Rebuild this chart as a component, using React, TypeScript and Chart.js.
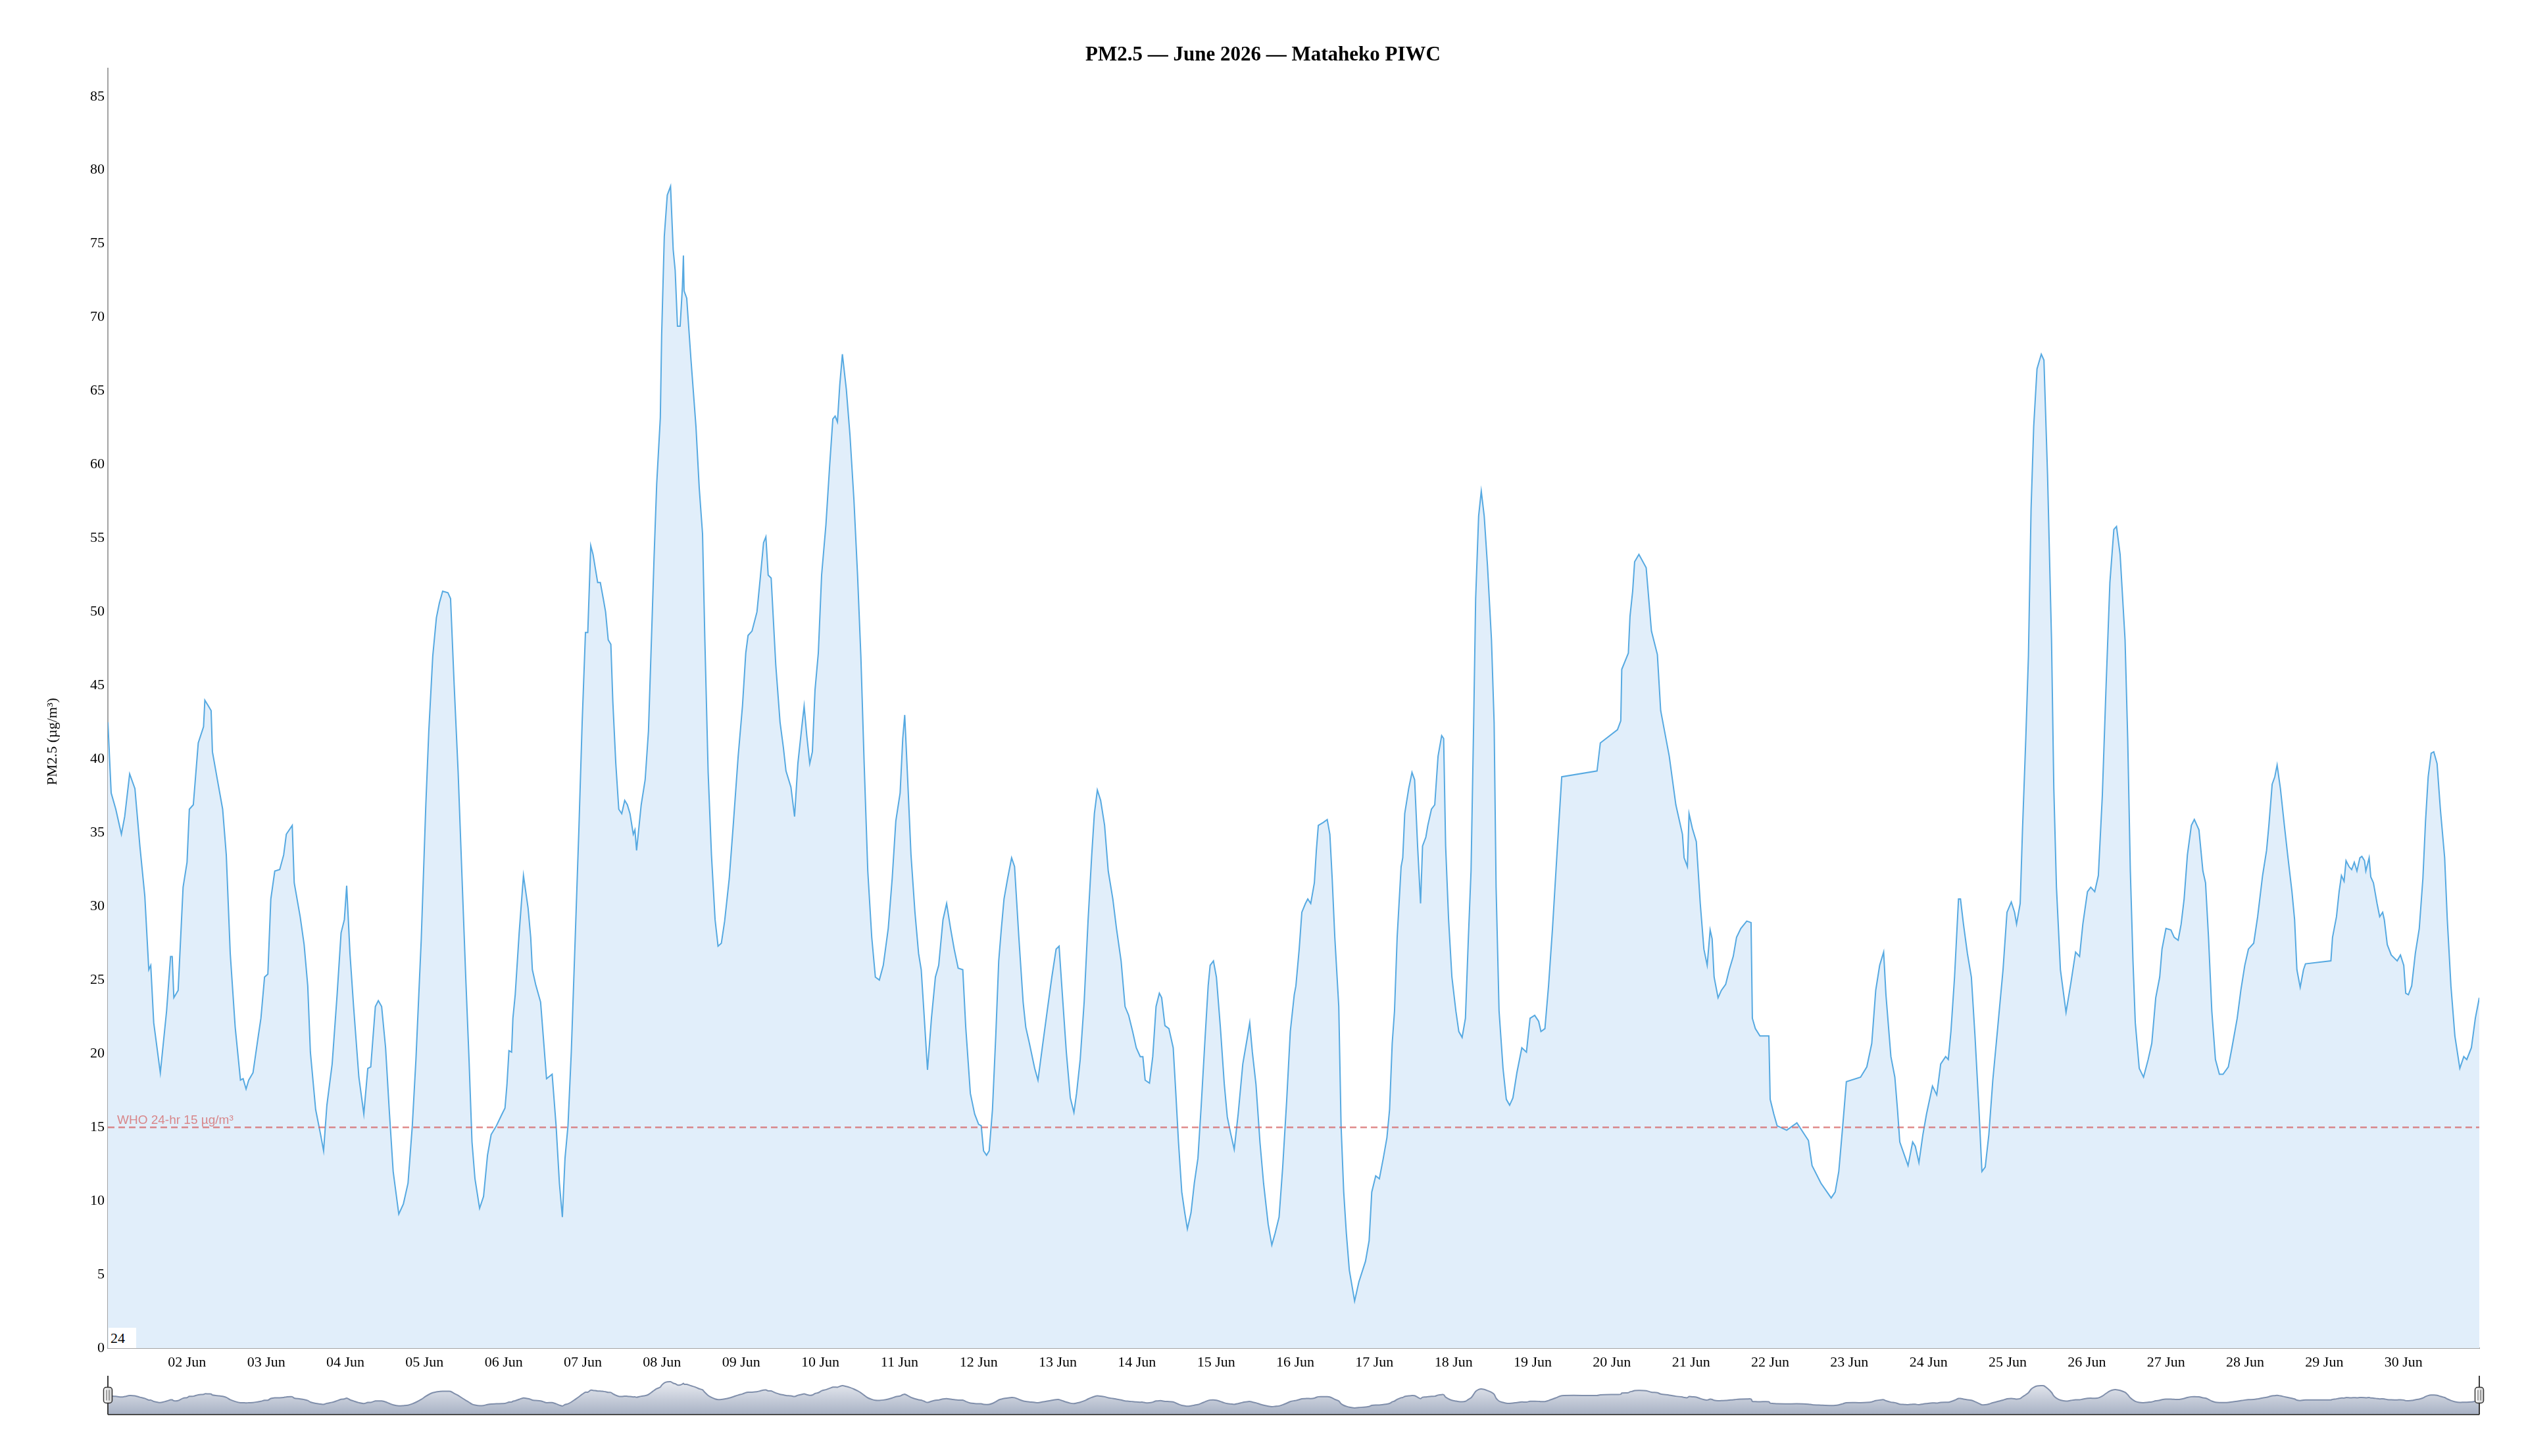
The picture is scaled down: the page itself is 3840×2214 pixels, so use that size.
import { useEffect, useRef } from 'react'
import { Chart, registerables } from 'chart.js'
Chart.register(...registerables)

const SERIF = '"Liberation Serif", "Times New Roman", serif'
const SANS = '"Liberation Sans", Arial, sans-serif'
Chart.defaults.font.family = SERIF

const TITLE = 'PM2.5 — June 2026 — Mataheko PIWC'
const Y_LABEL = 'PM2.5 (µg/m³)'
const WHO_LIMIT = 15
const WHO_LABEL = 'WHO 24-hr 15 µg/m³'
const ROLL_PERIOD = 24

const HOURS = [
  0, 1, 2.4, 4.1, 5.1, 6.6, 8.2, 9.7, 11.2, 12.4,
  13, 13.9, 15.9, 17.8, 19, 19.5, 20, 21.3, 22.8, 24,
  24.7, 25.9, 27.4, 29, 29.4, 30.5, 31.3, 31.7, 33.2, 34.8,
  35.9, 37.1, 38.6, 40.2, 41, 41.9, 42.7, 44, 45.6, 46.4,
  47.5, 48.5, 49.4, 50.6, 52.1, 53.3, 54.1, 55.9, 56.5, 58.3,
  59.5, 60.6, 61.4, 63, 64.5, 65.4, 66.4, 68, 69.5, 70.7,
  71.7, 72.4, 73.4, 74.5, 76.1, 77.6, 78.8, 79.7, 81.1, 82,
  83, 84.2, 85.3, 86.5, 88.2, 89.6, 91, 92.3, 93.4, 95,
  96.4, 97.3, 98.5, 99.6, 100.5, 101.5, 103.1, 103.9, 105, 106.2,
  107.3, 108.5, 109.5, 110.4, 111.3, 112.7, 113.9, 115.1, 116.2, 117.8,
  119.5, 120.4, 121, 121.6, 122.4, 122.8, 123.5, 124.7, 126, 127.4,
  128.2, 128.7, 129.7, 131.2, 132, 133, 134.7, 135.9, 136.9, 137.8,
  138.6, 139.5, 140.5, 141.7, 142.8, 143.8, 144.8, 145.5, 146.4, 147.1,
  148.5, 149.3, 150.2, 150.9, 151.7, 152.5, 153.1, 154, 154.9, 155.8,
  156.7, 157.5, 158.3, 159.3, 159.8, 160.3, 161.7, 162.9, 163.9, 164.8,
  165.6, 166.4, 167.5, 167.9, 168.7, 169.6, 170.6, 171.4, 172, 172.7,
  173.5, 174.2, 174.5, 174.7, 175.5, 176.8, 178.3, 179.3, 180.3, 181,
  182, 183, 184.1, 185, 186, 187, 188.4, 189.7, 191.1, 192.4,
  193.4, 194.1, 195.3, 196.8, 197.8, 198.8, 199.5, 200.2, 201.1, 202.5,
  203.8, 204.8, 205.6, 207.1, 208.2, 209.2, 210.4, 211.1, 211.9, 212.8,
  213.6, 214.4, 215.4, 216.4, 217.7, 218.8, 219.8, 220.5, 221.2, 221.9,
  222.7, 223.9, 225, 226.2, 227.3, 228.3, 229.3, 230.4, 231.6, 232.7,
  233.9, 235.1, 236.6, 237.8, 238.9, 240.2, 241, 241.6, 242.5, 243.5,
  244.7, 245.8, 246.6, 247.4, 248.5, 249.7, 250.9, 251.9, 253.2, 254.3,
  255.5, 256.6, 257.8, 259.2, 260.1, 261.5, 262.8, 264, 264.8, 265.5,
  266.4, 267.2, 268.2, 269.2, 270.1, 270.9, 271.7, 272.8, 274, 274.9,
  276.2, 277.5, 278.3, 279.4, 281, 282, 283.3, 284.8, 286.2, 287.5,
  288.4, 289.4, 290.6, 291.8, 292.9, 293.7, 294.8, 296, 297.2, 298.3,
  299.1, 300, 301, 302.2, 303.3, 304.7, 305.8, 307.2, 308.4, 309.5,
  310.7, 311.8, 313, 313.8, 314.5, 315.8, 316.8, 317.8, 318.8, 319.5,
  320.5, 321.7, 323, 323.8, 324.6, 325.6, 326.5, 327.3, 328.4, 329.4,
  330.5, 331.5, 332.7, 333.6, 334.2, 335.2, 336.1, 337.3, 338.5, 339.4,
  340.4, 341.5, 342.7, 344.1, 345.4, 346.2, 347, 348.1, 349.3, 350.4,
  351.8, 352.9, 353.9, 355.1, 356.2, 357.4, 358.5, 359.7, 360.2, 361.2,
  362, 363.1, 363.8, 364.7, 365.8, 366.4, 367, 368.5, 369.7, 370.5,
  371.2, 372, 373.2, 373.9, 374.7, 375.5, 376.4, 378, 379.3, 381.3,
  382.4, 383.2, 384.4, 385.5, 386.7, 387.8, 388.6, 389.4, 390.1, 390.9,
  392.1, 392.6, 393.2, 394.4, 395.4, 396.2, 397.1, 398, 398.6, 399.6,
  400.2, 401.3, 402.3, 403.3, 404.4, 405, 405.6, 406.5, 407.5, 408.7,
  409.6, 410.6, 411.6, 412.5, 413.3, 414.1, 414.7, 415.6, 416.4, 417.3,
  418.3, 419.5, 420.3, 420.9, 421.8, 423, 424, 425, 426, 427.2,
  428.7, 430.1, 431.2, 432.6, 433.8, 434.5, 435.7, 436.8, 438, 439.5,
  440.8, 451.5, 452.5, 457.7, 458.7, 459, 461, 461.5, 462.3, 462.9,
  464.2, 466.4, 468, 469.8, 470.8, 473.4, 475.4, 477.4, 477.9, 478.9,
  479.4, 480.4, 481.6, 482.8, 483.9, 484.9, 485.8, 486.4, 487, 488.2,
  489.2, 490.5, 491.6, 492.8, 493.8, 495.1, 496.9, 498.2, 498.6, 499.5,
  500.9, 503.6, 504, 505.1, 506.1, 509, 512.1, 515.6, 516.7, 519.4,
  522.5, 523.7, 524.8, 526, 527.1, 531.4, 533.3, 534.8, 536, 537.2,
  538.4, 539.1, 540.6, 541.8, 542.6, 543.3, 544.7, 545.8, 547.2, 548,
  549.1, 550.3, 551.4, 553.2, 554.5, 555.7, 557.2, 558, 558.8, 559.9,
  561.1, 561.7, 562.6, 563.8, 565, 566.1, 567.3, 568.2, 569.2, 570.3,
  571.5, 573, 574.6, 575.8, 577.1, 578.1, 578.7, 579.8, 580.5, 581.5,
  582.3, 583.1, 583.9, 584.9, 586.2, 587, 588.1, 589.3, 590, 590.8,
  592, 593.7, 595.1, 596.6, 597.8, 598.8, 600.2, 601.2, 602.4, 603.5,
  604.7, 605.8, 607, 608.2, 609, 610.1, 611.6, 612.4, 613.2, 614,
  614.7, 615.9, 617.2, 618.6, 619.7, 620.9, 622.1, 622.8, 624, 625.5,
  626.5, 627.7, 628.6, 629.5, 630.5, 631.7, 632.6, 634, 635.2, 636,
  636.9, 637.9, 639, 640.2, 641.3, 642.9, 644, 645.6, 646.7, 647.9,
  649, 650.6, 651.8, 653.3, 654.5, 655.2, 656.2, 657, 657.7, 658.7,
  659.9, 661, 662.2, 663, 663.7, 664.7, 665.7, 666.3, 674, 674.5,
  675.7, 676.5, 677.2, 678, 678.6, 679.5, 680.3, 681.1, 681.9, 682.8,
  683.4, 684.2, 684.6, 685.6, 686.1, 686.9, 688, 688.8, 689.7, 690.2,
  691.1, 692.3, 694.1, 695.1, 696.1, 696.7, 697.5, 698.5, 699.6, 700.8,
  701.9, 702.7, 703.5, 704.4, 705.2, 706.2, 707.2, 708.5, 709.3, 710.4,
  711.6, 713.1, 714.3, 715.2, 716.6, 717.8, 719,
]

// PM2.5 in µg/m³, same order as HOURS
const PM25 = [
  42.5, 37.7, 36.6, 34.9, 36.1, 39.0, 38.0, 34.1, 30.7, 25.7,
  26.0, 22.1, 18.7, 22.9, 26.6, 26.6, 23.8, 24.3, 31.3, 33.0,
  36.6, 36.9, 41.1, 42.2, 44.0, 43.6, 43.3, 40.5, 38.6, 36.6,
  33.5, 26.8, 21.8, 18.2, 18.3, 17.6, 18.2, 18.7, 21.2, 22.4,
  25.2, 25.4, 30.5, 32.4, 32.5, 33.5, 34.9, 35.5, 31.6, 29.3,
  27.4, 24.6, 20.1, 16.2, 14.5, 13.4, 16.5, 19.3, 24.0, 28.2,
  29.1, 31.4, 26.8, 23.2, 18.4, 15.9, 19.0, 19.1, 23.2, 23.6,
  23.2, 20.4, 16.2, 12.0, 9.1, 9.8, 11.2, 15.1, 19.6, 27.7,
  36.9, 41.9, 47.0, 49.6, 50.6, 51.4, 51.3, 50.9, 45.0, 39.1,
  32.4, 25.2, 19.6, 14.0, 11.5, 9.5, 10.3, 13.1, 14.5, 15.1,
  15.9, 16.3, 17.9, 20.2, 20.1, 22.4, 24.0, 28.2, 32.1, 29.9,
  27.9, 25.7, 24.7, 23.5, 21.2, 18.3, 18.6, 15.1, 11.2, 8.9,
  12.9, 15.1, 20.1, 27.9, 35.2, 42.5, 48.6, 48.6, 54.5, 53.9,
  52.0, 52.0, 50.9, 50.0, 48.1, 47.8, 43.9, 39.7, 36.6, 36.3,
  37.2, 36.9, 36.3, 34.9, 35.2, 33.8, 36.9, 38.6, 41.9, 48.1,
  53.7, 58.7, 63.2, 68.8, 75.5, 78.3, 78.9, 74.6, 73.2, 69.4,
  69.4, 72.1, 74.2, 71.8, 71.3, 67.1, 62.6, 58.4, 55.3, 48.1,
  39.1, 33.5, 29.1, 27.3, 27.5, 29.0, 31.9, 35.8, 40.2, 43.6,
  47.2, 48.4, 48.7, 50.0, 52.3, 54.7, 55.1, 52.5, 52.3, 46.4,
  42.5, 40.8, 39.2, 38.1, 36.1, 39.7, 42.2, 43.6, 41.6, 39.7,
  40.5, 44.7, 47.2, 52.5, 55.9, 59.8, 63.1, 63.3, 62.9, 65.4,
  67.5, 65.1, 62.0, 57.6, 52.5, 47.0, 39.7, 32.4, 27.9, 25.2,
  25.0, 26.0, 28.5, 31.9, 35.8, 37.7, 41.4, 43.0, 38.6, 33.5,
  29.6, 26.8, 25.7, 22.9, 18.9, 22.4, 25.2, 26.0, 29.1, 30.2,
  28.5, 27.1, 25.8, 25.7, 21.8, 17.3, 15.9, 15.2, 15.1, 13.4,
  13.1, 13.4, 16.2, 21.2, 26.3, 28.5, 30.5, 31.9, 33.3, 32.7,
  27.9, 23.5, 21.8, 20.7, 19.0, 18.2, 20.4, 22.9, 25.2, 27.1,
  27.3, 24.0, 20.1, 17.0, 16.0, 17.3, 19.6, 23.5, 29.1, 33.5,
  36.3, 37.9, 37.2, 35.5, 32.4, 30.5, 28.5, 26.3, 23.2, 22.6,
  21.5, 20.4, 19.8, 19.8, 18.2, 18.0, 19.8, 23.2, 24.1, 23.8,
  21.9, 21.7, 20.4, 17.3, 14.0, 10.6, 9.2, 8.1, 9.2, 11.2,
  12.9, 16.5, 21.2, 24.6, 26.0, 26.3, 25.2, 21.8, 17.9, 15.7,
  14.6, 13.5, 15.9, 19.3, 21.0, 22.1, 20.1, 17.9, 14.0, 11.2,
  8.4, 7.0, 7.8, 8.9, 12.3, 16.8, 21.5, 24.0, 24.6, 27.1,
  29.6, 30.2, 30.5, 30.2, 31.6, 33.8, 35.5, 35.7, 35.9, 34.9,
  31.9, 27.9, 23.2, 15.1, 10.6, 7.8, 5.3, 3.2, 4.5, 5.9,
  7.3, 10.6, 11.7, 11.5, 12.9, 14.3, 16.2, 20.7, 22.9, 27.9,
  32.7, 33.3, 36.3, 38.0, 39.1, 38.6, 34.1, 30.2, 34.1, 34.7,
  35.5, 36.6, 36.9, 40.2, 41.6, 41.4, 34.1, 29.1, 25.2, 22.9,
  21.5, 21.1, 22.4, 27.9, 32.4, 42.5, 50.9, 56.5, 58.2, 56.5,
  53.1, 48.1, 42.5, 31.3, 22.9, 19.0, 16.9, 16.5, 17.0, 18.7,
  20.4, 20.1, 22.4, 22.6, 22.2, 21.5, 21.7, 24.6, 28.5, 34.1,
  38.8, 39.2, 41.1, 42.0, 42.6, 46.1, 47.2, 49.7, 51.4, 53.4,
  53.9, 53.0, 48.7, 47.1, 43.3, 40.2, 36.9, 34.9, 33.3, 32.7,
  36.3, 35.3, 34.4, 30.2, 27.1, 26.0, 28.4, 27.8, 25.2, 23.8,
  24.3, 24.7, 25.7, 26.6, 27.9, 28.5, 29.0, 28.9, 22.4, 21.7,
  21.2, 21.2, 16.9, 15.9, 15.1, 14.8, 15.3, 14.1, 12.4, 11.2,
  10.2, 10.6, 12.0, 15.1, 18.1, 18.4, 19.1, 20.7, 24.3, 26.0,
  26.9, 24.0, 19.8, 18.4, 16.2, 14.0, 13.1, 12.4, 14.0, 13.7,
  12.6, 14.5, 15.9, 17.8, 17.2, 19.3, 19.8, 19.6, 21.5, 25.2,
  30.5, 30.5, 28.8, 26.8, 25.2, 21.2, 16.2, 12.0, 12.3, 14.5,
  18.2, 21.8, 25.7, 29.6, 30.3, 29.6, 28.8, 30.2, 35.2, 41.4,
  47.0, 57.0, 62.6, 66.5, 67.5, 67.1, 59.3, 48.1, 38.0, 31.3,
  25.7, 22.8, 24.7, 26.9, 26.6, 28.8, 31.0, 31.3, 31.0, 32.1,
  37.5, 44.7, 52.0, 55.6, 55.8, 53.9, 48.1, 41.4, 32.4, 26.3,
  22.1, 19.0, 18.4, 19.6, 20.7, 23.8, 25.2, 27.1, 28.5, 28.4,
  27.9, 27.7, 28.8, 30.5, 33.5, 35.5, 35.9, 35.2, 32.4, 31.6,
  27.9, 22.9, 19.6, 18.6, 18.6, 19.1, 20.4, 22.4, 24.3, 26.0,
  27.1, 27.5, 29.3, 32.1, 33.8, 35.5, 38.3, 38.8, 39.6, 38.0,
  35.5, 33.3, 31.0, 29.1, 25.7, 24.5, 25.7, 26.1, 26.3, 27.9,
  29.3, 31.0, 32.1, 31.7, 33.1, 32.7, 32.5, 33.0, 32.4, 33.3,
  33.4, 33.1, 32.4, 33.3, 32.0, 31.6, 30.2, 29.3, 29.6, 29.1,
  27.4, 26.7, 26.3, 26.7, 26.0, 24.1, 24.0, 24.6, 26.8, 28.5,
  31.9, 35.8, 38.8, 40.4, 40.5, 39.7, 36.6, 33.3, 29.1, 24.6,
  21.2, 19.0, 19.8, 19.6, 20.4, 22.4, 23.8,
]

const DAY_TICKS = [
  24, 48, 72, 96, 120, 144, 168, 192, 216, 240,
  264, 288, 312, 336, 360, 384, 408, 432, 456, 480,
  504, 528, 552, 576, 600, 624, 648, 672, 696,
]
const DAY_LABELS = [
  '02 Jun', '03 Jun', '04 Jun', '05 Jun', '06 Jun', '07 Jun', '08 Jun', '09 Jun', '10 Jun', '11 Jun',
  '12 Jun', '13 Jun', '14 Jun', '15 Jun', '16 Jun', '17 Jun', '18 Jun', '19 Jun', '20 Jun', '21 Jun',
  '22 Jun', '23 Jun', '24 Jun', '25 Jun', '26 Jun', '27 Jun', '28 Jun', '29 Jun', '30 Jun',
]
const Y_TICKS = [0, 5, 10, 15, 20, 25, 30, 35, 40, 45, 50, 55, 60, 65, 70, 75, 80, 85]
const X_MAX = 719
const Y_MAX = 86.9
const OVERVIEW_MIN = -16
const OVERVIEW_MAX = 96

const LINE = '#56a9e1'
const FILL = '#e1eefa'
const AXIS = '#a3a3a3'
const WHO_COLOR = 'rgba(212, 94, 94, 0.72)'

const MAIN_HEIGHT = 2077
const MINI_HEIGHT = 75
const RANGE_DROP = 101 // plot bottom to range selector bottom

const points = () => HOURS.map((h, i) => ({ x: h, y: PM25[i] }))

const whoLine = {
  id: 'whoLine',
  afterDatasetsDraw(chart: any) {
    const { ctx, chartArea } = chart
    const y = chart.scales.y.getPixelForValue(WHO_LIMIT)
    ctx.save()
    ctx.strokeStyle = WHO_COLOR
    ctx.lineWidth = 2.5
    ctx.setLineDash([10, 6])
    ctx.beginPath()
    ctx.moveTo(chartArea.left, y)
    ctx.lineTo(chartArea.right, y)
    ctx.stroke()
    ctx.setLineDash([])
    ctx.fillStyle = WHO_COLOR
    ctx.font = `19px ${SANS}`
    ctx.textBaseline = 'alphabetic'
    ctx.fillText(WHO_LABEL, chartArea.left + 14, y - 5)
    ctx.restore()
  },
}

const yTitle = {
  id: 'yTitle',
  afterDraw(chart: any) {
    const { ctx, chartArea } = chart
    ctx.save()
    ctx.translate(72, (chartArea.top + chartArea.bottom + RANGE_DROP) / 2)
    ctx.rotate(-Math.PI / 2)
    ctx.font = `22px ${SERIF}`
    ctx.fillStyle = '#000'
    ctx.textAlign = 'center'
    ctx.textBaseline = 'middle'
    ctx.fillText(Y_LABEL, 0, 0)
    ctx.restore()
  },
}

const rangeFrame = {
  id: 'rangeFrame',
  afterDraw(chart: any) {
    const { ctx, chartArea } = chart
    const { left, right, top, bottom } = chartArea
    ctx.save()
    ctx.strokeStyle = '#4a4a4a'
    ctx.lineWidth = 2
    ctx.beginPath()
    ctx.moveTo(left, bottom)
    ctx.lineTo(right, bottom)
    ctx.stroke()
    const cy = (top + bottom) / 2
    for (const x of [left, right]) {
      ctx.strokeStyle = '#3a3a3a'
      ctx.lineWidth = 2
      ctx.beginPath()
      ctx.moveTo(x, top)
      ctx.lineTo(x, bottom)
      ctx.stroke()
      const g = ctx.createLinearGradient(x - 7, 0, x + 7, 0)
      g.addColorStop(0, '#ffffff')
      g.addColorStop(1, '#d0d0d0')
      ctx.fillStyle = g
      ctx.strokeStyle = '#333'
      ctx.lineWidth = 1.5
      ctx.beginPath()
      ctx.roundRect(x - 6.5, cy - 12, 13, 24, 4)
      ctx.fill()
      ctx.stroke()
      ctx.lineWidth = 1
      ctx.strokeStyle = '#555'
      ctx.beginPath()
      ctx.moveTo(x - 2, cy - 8)
      ctx.lineTo(x - 2, cy + 8)
      ctx.moveTo(x + 2, cy - 8)
      ctx.lineTo(x + 2, cy + 8)
      ctx.stroke()
    }
    ctx.restore()
  },
}

function MainChart() {
  const ref = useRef<HTMLCanvasElement>(null)
  useEffect(() => {
    if (!ref.current) return
    const chart = new Chart(ref.current, {
      type: 'line',
      data: {
        datasets: [
          {
            data: points(),
            borderColor: LINE,
            backgroundColor: FILL,
            borderWidth: 2,
            pointRadius: 0,
            fill: 'origin',
            tension: 0,
          },
        ],
      },
      options: {
        animation: false,
        responsive: true,
        maintainAspectRatio: false,
        layout: { padding: 0 },
        plugins: {
          legend: { display: false },
          tooltip: { enabled: false },
          title: {
            display: true,
            text: TITLE,
            color: '#000',
            font: { size: 31, weight: 'bold', family: SERIF },
            padding: { top: 57, bottom: 2 },
          },
        },
        scales: {
          x: {
            type: 'linear',
            min: 0,
            max: X_MAX,
            grid: { display: false, drawTicks: false },
            border: { display: true, color: AXIS, width: 2 },
            afterBuildTicks: (s: any) => {
              s.ticks = DAY_TICKS.map((v) => ({ value: v }))
            },
            afterFit: (s: any) => {
              s.height = 35
            },
            ticks: {
              autoSkip: false,
              maxRotation: 0,
              padding: 9,
              color: '#000',
              font: { size: 22, family: SERIF },
              callback: (_v: any, i: number) => DAY_LABELS[i] ?? '',
            },
          },
          y: {
            min: 0,
            max: Y_MAX,
            grid: { display: false, drawTicks: false },
            border: { display: true, color: AXIS, width: 2 },
            afterBuildTicks: (s: any) => {
              s.ticks = Y_TICKS.map((v) => ({ value: v }))
            },
            afterFit: (s: any) => {
              s.width = 156
            },
            ticks: {
              padding: 5,
              color: '#000',
              font: { size: 22, family: SERIF },
              callback: (v: any) => String(v),
            },
          },
          // empty right-hand margin, so the title stays centred on the page
          gutter: {
            position: 'right',
            display: true,
            grid: { display: false, drawTicks: false },
            border: { display: false },
            ticks: { display: false },
            afterFit: (s: any) => {
              s.width = 63
            },
          },
        },
      },
      plugins: [whoLine, yTitle],
    })
    return () => chart.destroy()
  }, [])
  return (
    <div style={{ position: 'relative', height: MAIN_HEIGHT }}>
      <canvas ref={ref} />
    </div>
  )
}

function RangeChart() {
  const ref = useRef<HTMLCanvasElement>(null)
  useEffect(() => {
    if (!ref.current) return
    const chart = new Chart(ref.current, {
      type: 'line',
      data: {
        datasets: [
          {
            data: points(),
            borderColor: '#808fab',
            borderWidth: 2,
            pointRadius: 0,
            tension: 0.3,
            fill: 'start',
            backgroundColor: (c: any) => {
              const area = c.chart.chartArea
              if (!area) return '#c4cbd8'
              const g = c.chart.ctx.createLinearGradient(0, area.top, 0, area.bottom)
              g.addColorStop(0, '#f4f5f8')
              g.addColorStop(1, '#a7b1c4')
              return g
            },
          },
        ],
      },
      options: {
        animation: false,
        responsive: true,
        maintainAspectRatio: false,
        layout: { padding: { left: 156, right: 63, top: 7, bottom: 9 } },
        plugins: {
          legend: { display: false },
          tooltip: { enabled: false },
          title: { display: false },
        },
        scales: {
          x: { type: 'linear', display: false, min: 0, max: X_MAX },
          y: { display: false, min: OVERVIEW_MIN, max: OVERVIEW_MAX },
        },
      },
      plugins: [rangeFrame],
    })
    return () => chart.destroy()
  }, [])
  return (
    <div style={{ position: 'relative', height: MINI_HEIGHT }}>
      <canvas ref={ref} />
    </div>
  )
}

export default function App() {
  return (
    <div style={{ position: 'relative', width: '100%' }}>
      <MainChart />
      <RangeChart />
      <div
        style={{
          position: 'absolute',
          left: 157,
          top: 2011,
          width: 42,
          height: 31,
          background: '#fff',
          fontFamily: SERIF,
          fontSize: 22,
          lineHeight: '31px',
          paddingLeft: 3,
          boxSizing: 'border-box',
          color: '#000',
        }}
      >
        {ROLL_PERIOD}
      </div>
    </div>
  )
}
